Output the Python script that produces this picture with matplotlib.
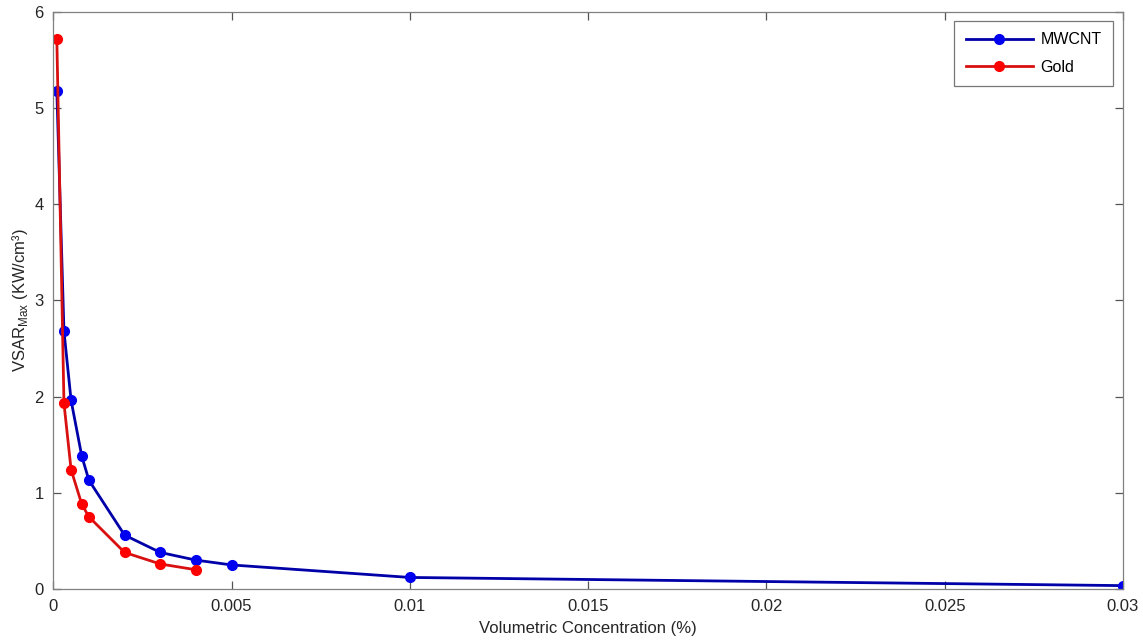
import matplotlib
matplotlib.use("Agg")
import matplotlib.pyplot as plt

plt.rcParams['font.family'] = ['Liberation Sans', 'DejaVu Sans']

# Volumetric concentration (%) and peak VSAR (kW/cm^3)
mwcnt_conc = [0.0001, 0.0003, 0.0005, 0.0008, 0.001, 0.002, 0.003, 0.004, 0.005, 0.01, 0.03]
mwcnt_vsar = [5.18, 2.68, 1.96, 1.38, 1.13, 0.56, 0.38, 0.30, 0.25, 0.12, 0.035]

gold_conc = [0.0001, 0.0003, 0.0005, 0.0008, 0.001, 0.002, 0.003, 0.004]
gold_vsar = [5.72, 1.93, 1.24, 0.88, 0.75, 0.38, 0.26, 0.20]

x_ticks = [0, 0.005, 0.01, 0.015, 0.02, 0.025, 0.03]
x_tick_labels = ['0', '0.005', '0.01', '0.015', '0.02', '0.025', '0.03']
y_ticks = [0, 1, 2, 3, 4, 5, 6]

fig = plt.figure(figsize=(11.43, 6.40), dpi=100)
ax = fig.add_axes([0.0466, 0.0797, 0.9359, 0.9020])

ax.plot(mwcnt_conc, mwcnt_vsar, color='#0000A8', lw=2.0, marker='o', ms=7,
        markerfacecolor='#0000F0', markeredgecolor='#0000F0', label='MWCNT')
ax.plot(gold_conc, gold_vsar, color='#D81010', lw=2.0, marker='o', ms=7,
        markerfacecolor='#FF0000', markeredgecolor='#FF0000', label='Gold')

ax.set_xlim(0, 0.03)
ax.set_ylim(0, 6)
ax.set_xticks(x_ticks)
ax.set_xticklabels(x_tick_labels)
ax.set_yticks(y_ticks)

for side in ax.spines.values():
    side.set_color('#808080')
    side.set_linewidth(0.9)
ax.tick_params(direction='in', length=6, width=0.9, color='#555555',
               labelsize=12, labelcolor='#262626', top=True, right=True, pad=7)

ax.set_xlabel('Volumetric Concentration (%)', fontsize=12, color='#262626', labelpad=5)
ax.set_ylabel(r'VSAR$_{\mathregular{Max}}$ (KW/cm³)', fontsize=12, color='#262626', labelpad=3)

leg = ax.legend(loc='upper right', bbox_to_anchor=(0.9907, 0.9839), fontsize=11.5,
                frameon=True, fancybox=False, handlelength=4.2, borderpad=0.7,
                labelspacing=0.8, handletextpad=0.5, borderaxespad=0.0)
leg.get_frame().set_edgecolor('#555555')
leg.get_frame().set_linewidth(0.9)

fig.savefig('out.png', dpi=100)
